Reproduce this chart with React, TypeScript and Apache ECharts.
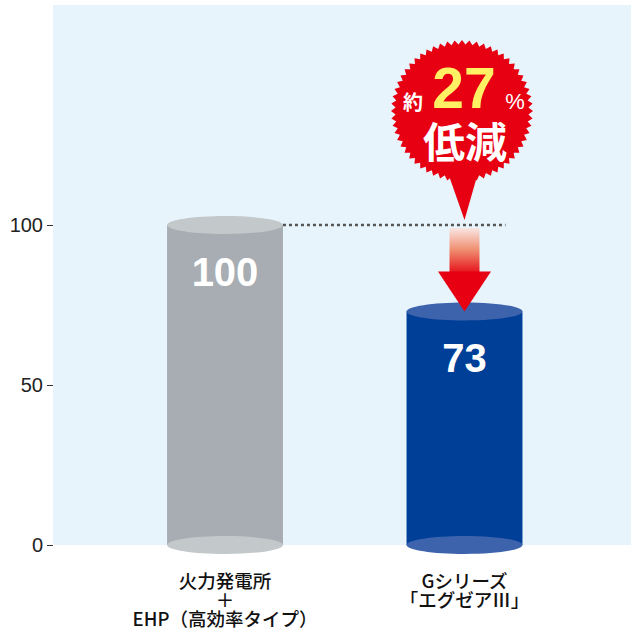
import React, { useEffect, useRef } from "react";
import * as echarts from "echarts";

const categories = ["火力発電所\n＋\nEHP（高効率タイプ）", "Gシリーズ\n「エグゼアⅢ」"];
const values = [100, 73];
const yTicks = [0, 50, 100];
const reductionText = { prefix: "約", number: "27", suffix: "%", label: "低減" };

const bodyColors = ["#a7adb3", "#003f98"];
const capColors = ["#c3c8cb", "#3d63ad"];

const JP = "'Noto Sans CJK JP', 'Noto Sans', sans-serif";
const LAT = "'Liberation Sans', Arial, sans-serif";

export default function App() {
  const ref = useRef<HTMLDivElement>(null);
  useEffect(() => {
    if (!ref.current) return;
    const chart = echarts.init(ref.current, null, { renderer: "svg" });
    const option: any = {
      animation: false,
      backgroundColor: "#ffffff",
      grid: [
        { left: 105.25, right: 46.75, top: 225, bottom: 87 },
        { left: 53, right: 0, top: 5, bottom: 87, show: true, backgroundColor: "#e8f4fc", borderWidth: 0, z: -1 },
      ],
      xAxis: [
        {
          type: "category",
          gridIndex: 0,
          data: categories,
          axisLine: { show: false },
          axisTick: { show: false },
          axisLabel: {
            interval: 0, fontSize: 18.5, lineHeight: 19, color: "#111", margin: 25.5,
            fontFamily: JP, fontWeight: 500,
          },
        },
        { type: "value", gridIndex: 1, show: false },
      ],
      yAxis: [
        {
          type: "value",
          gridIndex: 0,
          min: 0,
          max: 100,
          interval: 50,
          offset: 52.25,
          axisLine: { show: false },
          axisTick: { show: true, length: 6, lineStyle: { color: "#333", width: 1 } },
          axisLabel: {
            fontSize: 20,
            color: "#222",
            margin: 10,
            fontFamily: LAT,
            formatter: (v: number) => (yTicks.includes(v) ? String(v) : ""),
          },
          splitLine: { show: false },
        },
        { type: "value", gridIndex: 1, show: false },
      ],
      series: [
        {
          type: "custom",
          xAxisIndex: 0,
          yAxisIndex: 0,
          z: 2,
          data: values.map((v, i) => [i, v]),
          encode: { x: 0, y: 1 },
          renderItem: (params: any, api: any) => {
            const idx = api.value(0);
            const val = api.value(1);
            const top = api.coord([idx, val]);
            const bot = api.coord([idx, 0]);
            const w = api.size([1, 0])[0] * 0.484;
            const ry = 9;
            return {
              type: "group",
              children: [
                {
                  type: "rect",
                  shape: { x: top[0] - w / 2, y: top[1], width: w, height: bot[1] - top[1] },
                  style: { fill: bodyColors[idx] },
                },
                {
                  type: "ellipse",
                  shape: { cx: bot[0], cy: bot[1], rx: w / 2, ry },
                  style: { fill: capColors[idx] },
                },
                {
                  type: "ellipse",
                  shape: { cx: top[0], cy: top[1], rx: w / 2, ry },
                  style: { fill: capColors[idx] },
                },
                {
                  type: "text",
                  style: {
                    text: String(val),
                    x: top[0],
                    y: top[1] + 46.5,
                    fill: "#ffffff",
                    fontSize: 40,
                    fontWeight: "bold",
                    fontFamily: LAT,
                    align: "center",
                    verticalAlign: "middle",
                  },
                },
              ],
            };
          },
        },
        {
          type: "custom",
          xAxisIndex: 0,
          yAxisIndex: 0,
          z: 3,
          data: [[1, values[0], values[1]]],
          renderItem: (params: any, api: any) => {
            const idx = api.value(0);
            const ref100 = api.coord([idx, api.value(1)]);
            const left100 = api.coord([0, api.value(1)]);
            const target = api.coord([idx, api.value(2)]);
            const w = api.size([1, 0])[0] * 0.484;
            const cx = ref100[0];
            const lineY = ref100[1];
            const headH = 40;
            const headW = 53;
            const shaftW = 30;
            const shaftTop = lineY + 3;
            const headTop = target[1] - headH;
            const bx = cx - 2.5;
            const by = lineY - 114;
            const n = 60;
            const rOut = 71;
            const rIn = 66.5;
            const pts: number[][] = [];
            for (let k = 0; k < n * 2; k++) {
              const a = (Math.PI * k) / n - Math.PI / 2;
              const r = k % 2 === 0 ? rOut : rIn;
              pts.push([bx + r * Math.cos(a), by + r * Math.sin(a)]);
            }
            return {
              type: "group",
              children: [
                {
                  type: "line",
                  shape: { x1: left100[0] + w / 2, y1: lineY, x2: cx + 41, y2: lineY },
                  style: { stroke: "#555", lineWidth: 2.5, lineDash: [3, 3] },
                },
                {
                  type: "rect",
                  shape: { x: cx - shaftW / 2, y: shaftTop, width: shaftW, height: headTop - shaftTop + 1 },
                  style: {
                    fill: new echarts.graphic.LinearGradient(0, 0, 0, 1, [
                      { offset: 0, color: "#f9e6e2" },
                      { offset: 0.5, color: "#ef8c6e" },
                      { offset: 1, color: "#e6141c" },
                    ]),
                  },
                },
                {
                  type: "polygon",
                  shape: { points: [[cx - headW / 2, headTop], [cx + headW / 2, headTop], [cx, target[1]]] },
                  style: { fill: "#e60012" },
                },
                {
                  type: "polygon",
                  shape: { points: [[bx - 14, by + 62], [bx + 16, by + 62], [cx, lineY - 5]] },
                  style: { fill: "#e60012" },
                },
                {
                  type: "polygon",
                  shape: { points: pts },
                  style: { fill: "#e60012" },
                },
                {
                  type: "text",
                  style: {
                    text: reductionText.prefix, x: bx - 49, y: by - 10, fill: "#fff",
                    fontSize: 20, fontWeight: "bold", fontFamily: JP, align: "center", verticalAlign: "middle",
                  },
                },
                {
                  type: "text",
                  style: {
                    text: reductionText.number, x: bx + 2, y: by - 23, fill: "#fff064",
                    fontSize: 57, fontWeight: "bold", fontFamily: LAT, align: "center", verticalAlign: "middle",
                  },
                },
                {
                  type: "text",
                  style: {
                    text: reductionText.suffix, x: bx + 53, y: by - 10, fill: "#fff",
                    fontSize: 22, fontFamily: LAT, align: "center", verticalAlign: "middle",
                  },
                },
                {
                  type: "text",
                  style: {
                    text: reductionText.label, x: bx + 3, y: by + 28, fill: "#fff",
                    fontSize: 42, fontWeight: "bold", fontFamily: JP, align: "center", verticalAlign: "middle",
                  },
                },
              ],
            };
          },
        },
      ],
    };
    chart.setOption(option);
    return () => chart.dispose();
  }, []);
  return <div ref={ref} style={{ position: "absolute", left: 0, top: 0, width: 631, height: 632 }} />;
}
